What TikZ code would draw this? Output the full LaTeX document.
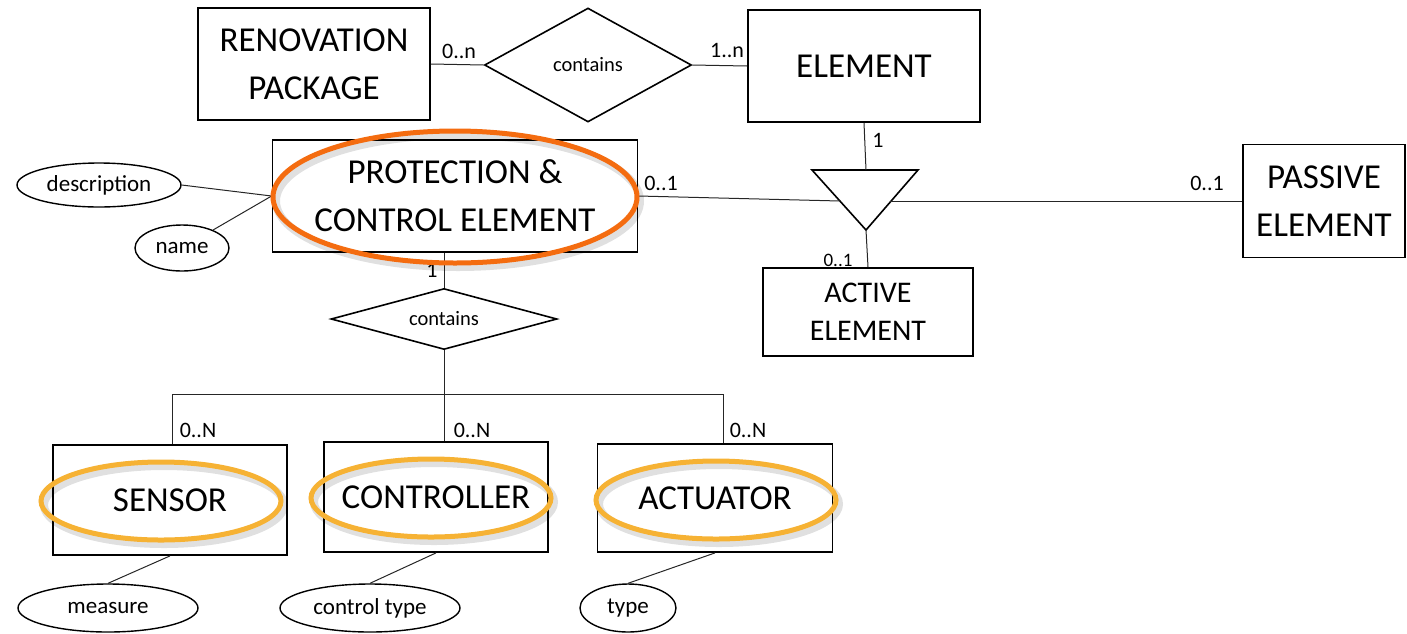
\documentclass[tikz,border=0pt]{standalone}
\usepackage{fontspec}
\setmainfont{Carlito}
\usetikzlibrary{shapes.geometric}
\definecolor{ringorange}{RGB}{244,108,16}
\definecolor{ringgold}{RGB}{246,178,52}
\begin{document}
\begin{tikzpicture}[x=1pt,y=-1pt,
  entity/.style={draw=black, line width=1.8pt, rectangle, inner sep=0pt, align=center,
                 font=\fontsize{35}{48}\selectfont},
  relation/.style={draw=black, line width=1.6pt, diamond, aspect=2, inner sep=0pt,
                   font=\fontsize{20.5}{24}\selectfont},
  attr/.style={draw=black, line width=1.4pt, ellipse, inner sep=0pt,
               font=\fontsize{23}{27}\selectfont},
  card/.style={inner sep=0pt, font=\fontsize{22}{26}\selectfont},
  link/.style={draw=black!85, line width=1pt},
  ring/.style={line width=5pt},
  ringshade/.style={draw=black, opacity=0.12, line width=8pt},
]
\useasboundingbox (0,0) rectangle (1407,633);

% entities
\node[entity, minimum width=232pt, minimum height=112pt] (rp) at (314,64) {RENOVATION\\PACKAGE};
\node[entity, minimum width=232pt, minimum height=112pt] (el) at (864,66) {ELEMENT};
\node[entity, minimum width=365pt, minimum height=112pt] (pce) at (455,196) {PROTECTION \&\\CONTROL ELEMENT};
\node[entity, minimum width=162pt, minimum height=113pt] (passive) at (1324,201) {PASSIVE\\ELEMENT};
\node[entity, minimum width=210pt, minimum height=88pt, font=\fontsize{30}{38}\selectfont] (active) at (868,312) {ACTIVE\\ELEMENT};
\node[entity, minimum width=234pt, minimum height=110pt] (sensor) at (170,500) {SENSOR};
\node[entity, minimum width=224pt, minimum height=110pt] (controller) at (436,497) {CONTROLLER};
\node[entity, minimum width=235pt, minimum height=108pt] (actuator) at (715,498) {ACTUATOR};

% relationships
\node[relation, minimum width=207pt, minimum height=114pt] (c1) at (588,65) {contains};
\node[relation, minimum width=226pt, minimum height=61pt] (c2) at (444,319) {contains};

% specialisation triangle
\coordinate (isaL) at (812,170);
\coordinate (isaR) at (918,170);
\coordinate (isaB) at (866,230);
\coordinate (isaT) at (866,170);
\coordinate (isaInL) at (840,201);
\coordinate (isaInR) at (890,201);
\draw[line width=1.6pt, line join=miter] (isaL) -- (isaR) -- (isaB) -- cycle;

% attributes
\node[attr, minimum width=164pt, minimum height=44pt] (desc) at (99,185) {description};
\node[attr, minimum width=94pt, minimum height=46pt] (name) at (182,248) {name};
\node[attr, minimum width=180pt, minimum height=48pt] (measure) at (108,608) {measure};
\node[attr, minimum width=180pt, minimum height=48pt] (ctype) at (370,608) {control type};
\node[attr, minimum width=96pt, minimum height=48pt] (type) at (628,608) {type};

% connectors
\draw[link] (rp.east) -- (c1.west);
\draw[link] (c1.east) -- (el.west);
\draw[link] (el.south) -- (isaT);
\draw[link] (isaB) -- (active.north);
\draw[link] (pce.east) -- (isaInL);
\draw[link] (isaInR) -- (passive.west);
\draw[link] (desc.east) -- (pce.west);
\draw[link] (name) -- (pce.west);
\draw[link] (c2.north) -- (c2.north |- pce.south);

\coordinate (bus) at (444,394);
\coordinate (busL) at (172,394);
\coordinate (busR) at (723,394);
\draw[link] (c2.south) -- (bus);
\draw[link] (busL) -- (busR);
\draw[link] (busL) -- (busL |- sensor.north);
\draw[link] (bus) -- (bus |- controller.north);
\draw[link] (busR) -- (busR |- actuator.north);

\draw[link] (sensor.south) -- (measure.north);
\draw[link] (controller.south) -- (ctype.north);
\draw[link] (actuator.south) -- (type.north);

% cardinalities
\node[card] (k1) at (459,51) {0..n};
\node[card] (k2) at (727,51) {1..n};
\node[card] (k3) at (878,140) {1};
\node[card] (k4) at (661,183) {0..1};
\node[card] (k5) at (1207,183) {0..1};
\node[card, font=\fontsize{19}{22}\selectfont] (k6) at (838,260) {0..1};
\node[card] (k7) at (432,270) {1};
\node[card] (k8) at (198,430) {0..N};
\node[card] (k9) at (472,430) {0..N};
\node[card] (k10) at (748,430) {0..N};

% highlight rings
\draw[ringshade] (458,201) ellipse [x radius=182pt, y radius=66pt];
\draw[ring, ringorange] (455,197) ellipse [x radius=182pt, y radius=66pt];
\foreach \cx/\cy in {161/501, 431/498, 716/500}{
  \draw[ringshade] (\cx+3,\cy+4) ellipse [x radius=120pt, y radius=39pt];
  \draw[ring, ringgold] (\cx,\cy) ellipse [x radius=120pt, y radius=39pt];
}
\end{tikzpicture}
\end{document}
